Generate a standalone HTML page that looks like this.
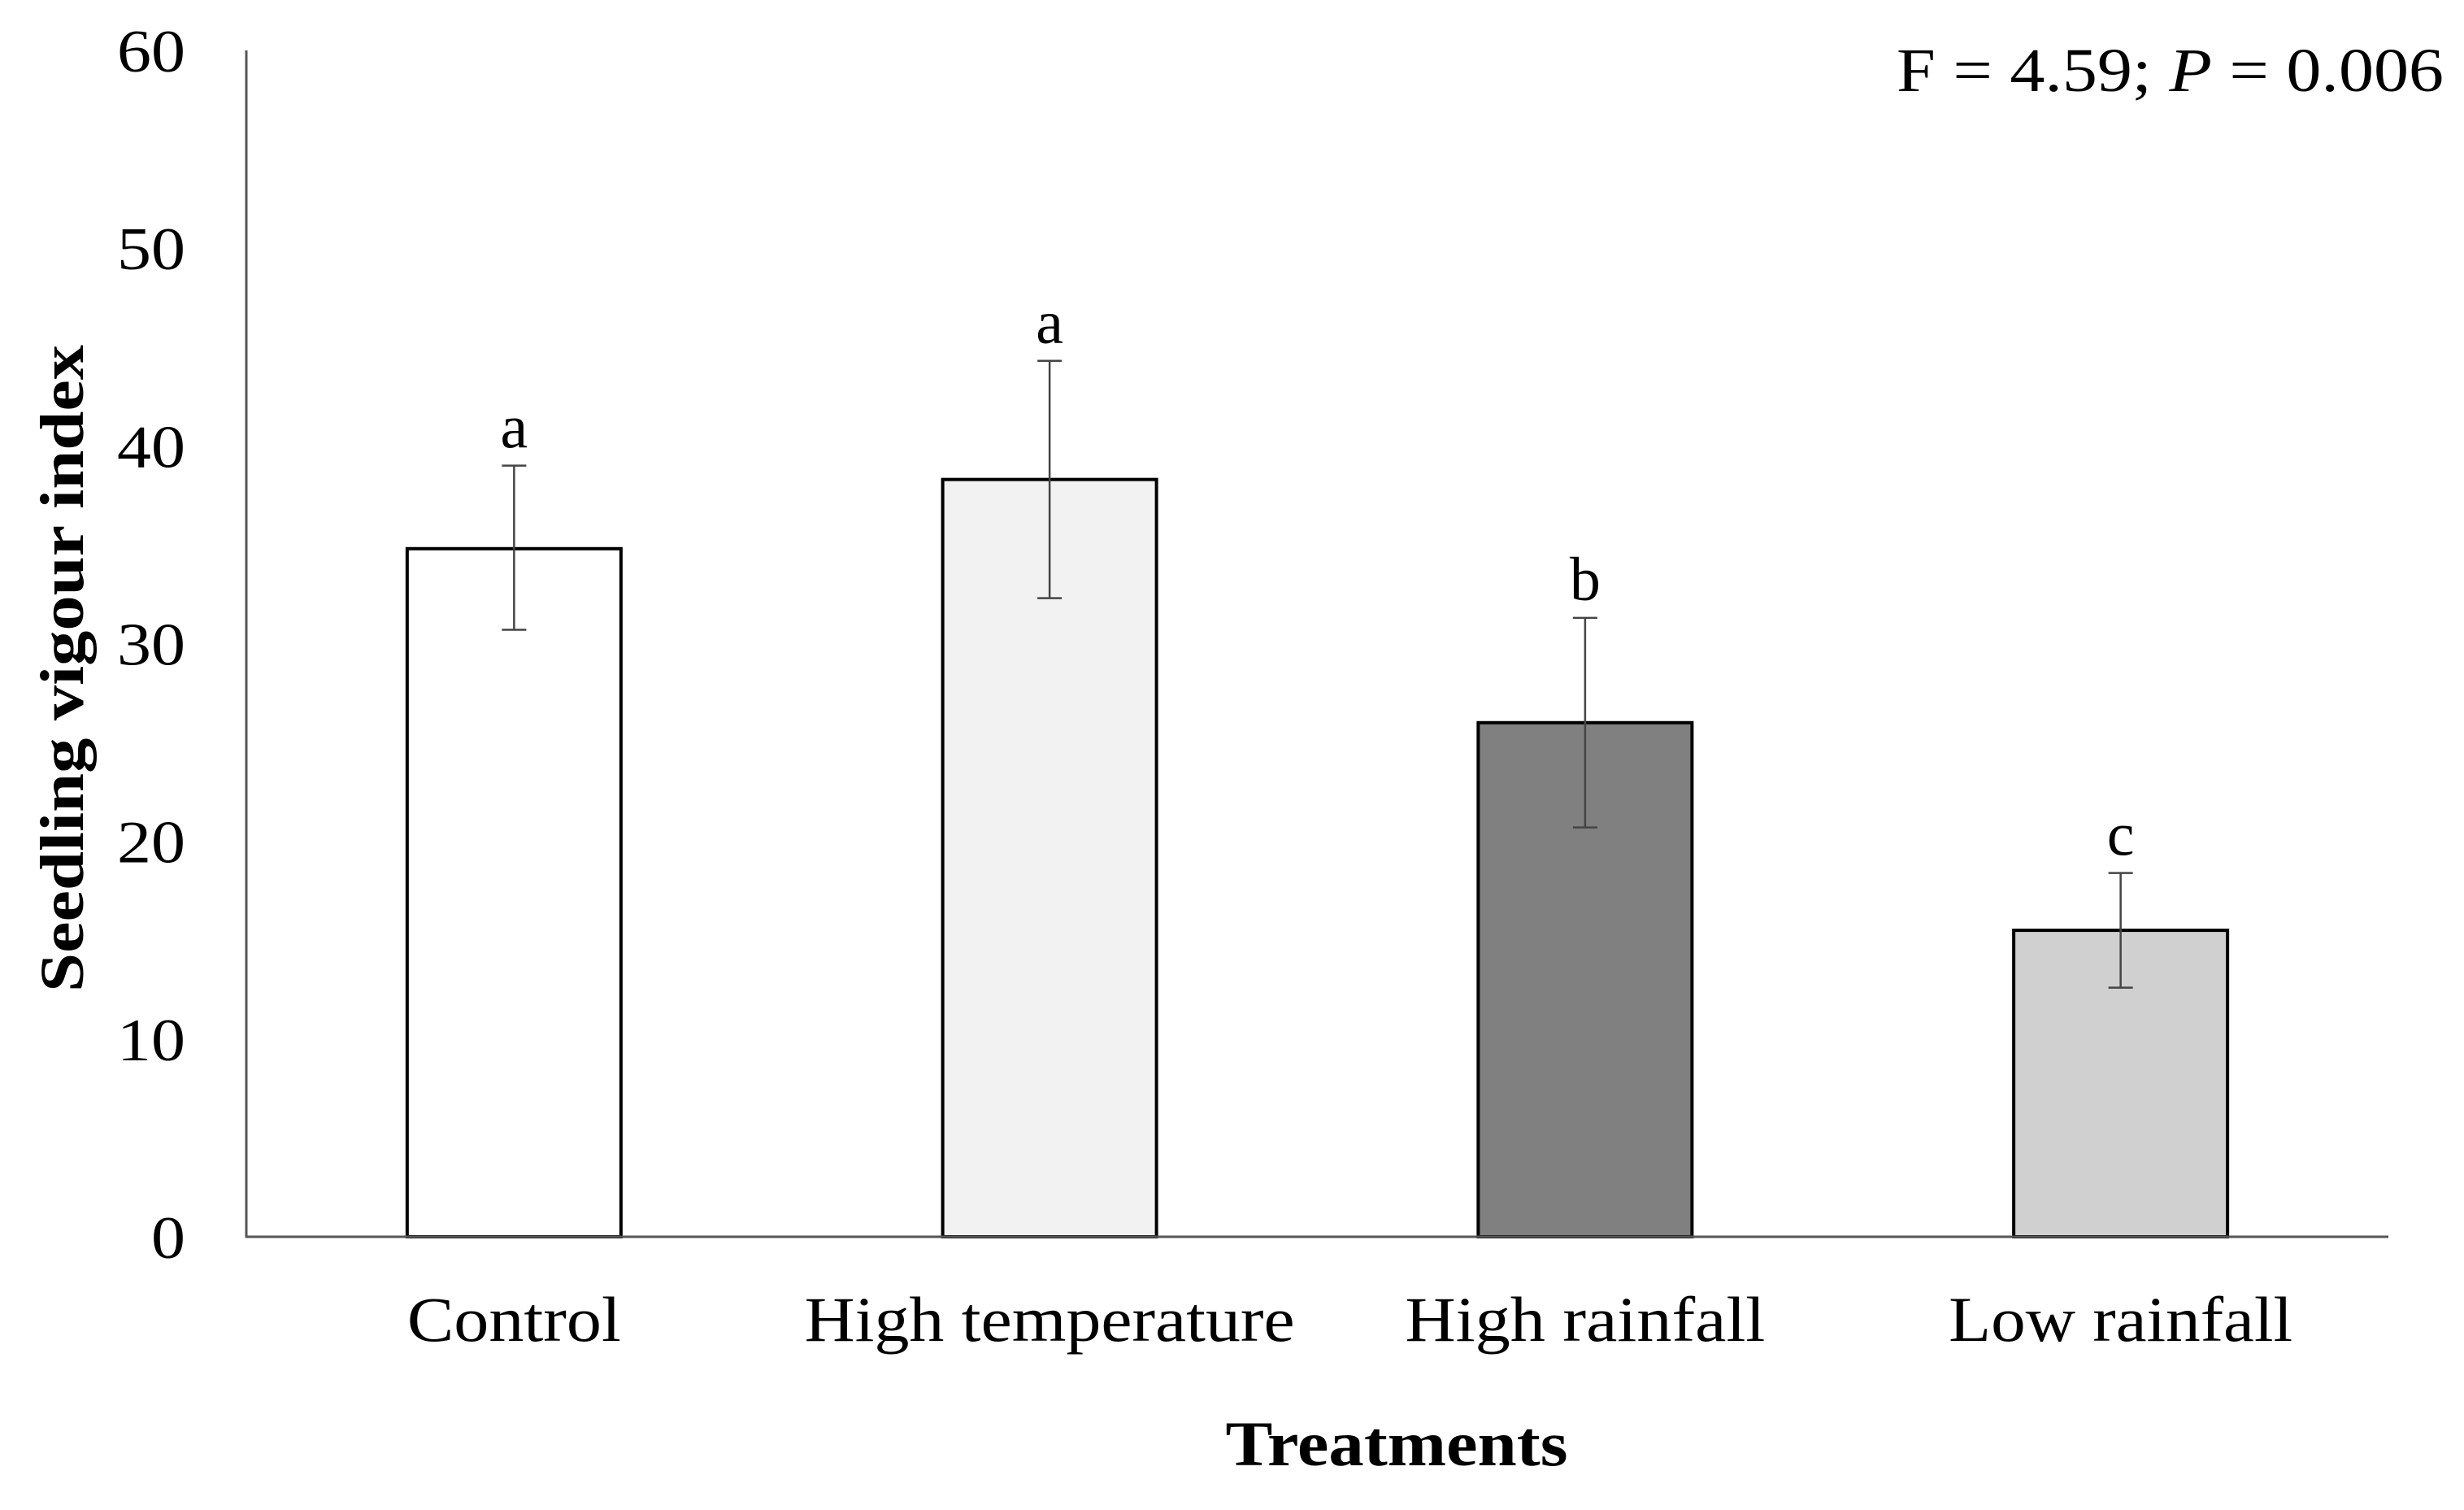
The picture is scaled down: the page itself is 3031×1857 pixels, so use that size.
<!DOCTYPE html>
<html><head><meta charset="utf-8"><style>
html,body{margin:0;padding:0;background:#fff;}
svg{display:block;}
text{font-family:"Liberation Serif",serif;fill:#000;}
</style></head><body>
<svg id="chart" width="3031" height="1857" viewBox="0 0 3031 1857" xmlns="http://www.w3.org/2000/svg">
<g id="ticks"></g>
<g id="bars"></g>
<g id="cats"></g>
<line x1="303" y1="62" x2="303" y2="1522" stroke="#555" stroke-width="3"/>
<line x1="302" y1="1521" x2="2938" y2="1521" stroke="#555" stroke-width="3"/>
<text transform="translate(102,822) rotate(-90)" text-anchor="middle" font-size="76" font-weight="bold" textLength="796" lengthAdjust="spacingAndGlyphs">Seedling vigour index</text>
<text x="1718" y="1802" text-anchor="middle" font-size="78" font-weight="bold" textLength="421" lengthAdjust="spacingAndGlyphs">Treatments</text>
<text x="3006" y="112" text-anchor="end" font-size="76" textLength="673" lengthAdjust="spacingAndGlyphs">F = 4.59; <tspan font-style="italic">P</tspan> = 0.006</text>
</svg>
<script>
const categories = ["Control","High temperature","High rainfall","Low rainfall"];
const values = [34.8, 38.3, 26.0, 15.5];
const errUpper = [39.0, 44.3, 31.3, 18.4];
const errLower = [30.7, 32.3, 20.7, 12.6];
const letters = ["a","a","b","c"];
const fills = ["#ffffff","#f2f2f2","#808080","#d0d0d0"];
const tickValues = [0,10,20,30,40,50,60];
const labelWidths = [263, 603, 443, 423];

const NS="http://www.w3.org/2000/svg";
const x0=303, x1=2938, yBase=1521, yTop=62, yMax=60;
const slot=(x1-x0)/categories.length, bw=263;
function y(v){return yBase-(v/yMax)*(yBase-yTop);}
function xc(i){return x0+slot*(i+0.5);}
function mk(tag,attrs,parent){const e=document.createElementNS(NS,tag);for(const k in attrs)e.setAttribute(k,attrs[k]);parent.appendChild(e);return e;}
const gt=document.getElementById('ticks'),gb=document.getElementById('bars'),gc=document.getElementById('cats');
tickValues.forEach(t=>{
  const s=String(t);
  const e=mk('text',{x:228,y:y(t)+26,'text-anchor':'end','font-size':74,textLength:s.length*42,lengthAdjust:'spacingAndGlyphs'},gt);
  
  
  e.textContent=s;
});
categories.forEach((c,i)=>{
  const cx=xc(i);
  const r=mk('rect',{x:cx-bw/2,y:y(values[i]),width:bw,height:yBase-y(values[i]),fill:fills[i],stroke:'#000','stroke-width':4},gb);
  
  
  const l=mk('line',{x1:cx,x2:cx,y1:y(errUpper[i]),y2:y(errLower[i]),stroke:'#444','stroke-width':2.5},gb);
  
  
  [errUpper[i],errLower[i]].forEach(v=>{
    const cap=mk('line',{x1:cx-15,x2:cx+15,y1:y(v),y2:y(v),stroke:'#444','stroke-width':2.5},gb);
    
    
  });
  const s=mk('text',{x:cx,y:y(errUpper[i])-22,'text-anchor':'middle','font-size':76},gb);
  
  
  s.textContent=letters[i];
  const t=mk('text',{x:cx,y:1649,'text-anchor':'middle','font-size':78,textLength:labelWidths[i],lengthAdjust:'spacingAndGlyphs'},gc);
  
  
  t.textContent=c;
});
</script>
</body></html>
